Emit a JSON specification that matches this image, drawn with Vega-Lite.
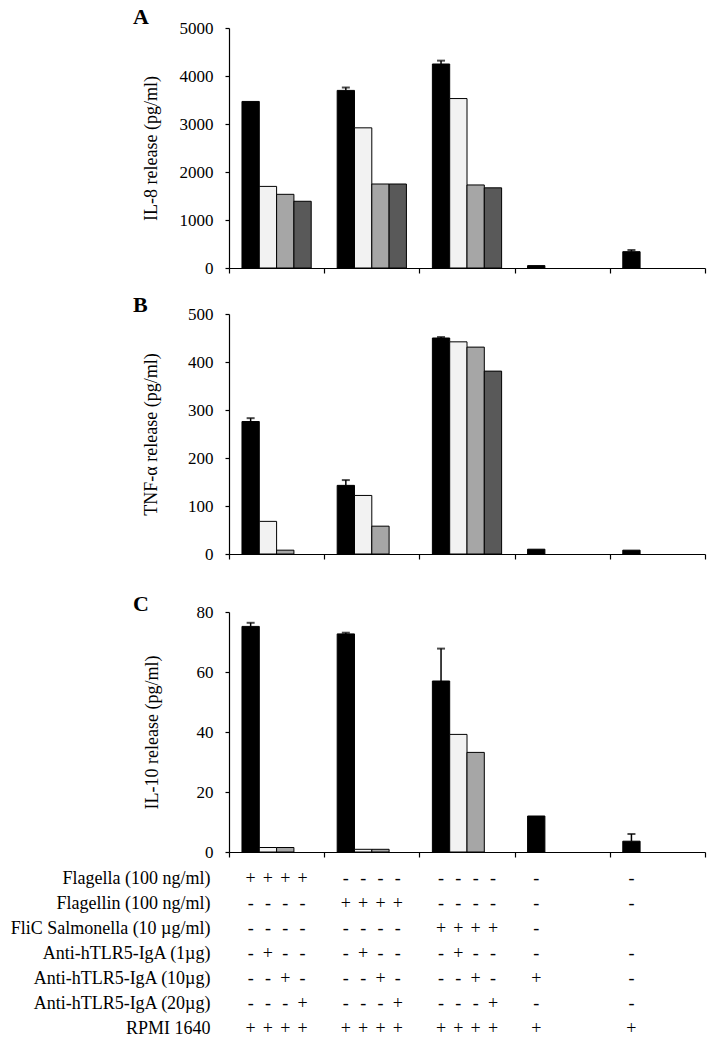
{
  "$schema": "https://vega.github.io/schema/vega-lite/v6.json",
  "padding": {"left": 5, "top": 5, "right": 5, "bottom": 0},
  "spacing": 0,
  "config": {
    "view": {"stroke": null},
    "font": "Liberation Serif",
    "axis": {"domainColor": "#000", "tickColor": "#000", "labelColor": "#000", "titleColor": "#000", "labelFont": "Liberation Serif", "titleFont": "Liberation Serif", "grid": false, "labelFontSize": 17, "titleFontSize": 18, "titleFontWeight": "normal", "domainWidth": 1.2, "tickWidth": 1.2},
    "title": {"font": "Liberation Serif", "fontSize": 22, "fontWeight": "bold", "anchor": "start", "frame": "group", "color": "#000"}
  },
  "datasets": {
    "bars": [
      {"p": "A", "g": "1", "s": "1", "v": 3470},
      {"p": "A", "g": "1", "s": "2", "v": 1700},
      {"p": "A", "g": "1", "s": "3", "v": 1535},
      {"p": "A", "g": "1", "s": "4", "v": 1390},
      {"p": "A", "g": "2", "s": "1", "v": 3700, "hi": 3760},
      {"p": "A", "g": "2", "s": "2", "v": 2920},
      {"p": "A", "g": "2", "s": "3", "v": 1750},
      {"p": "A", "g": "2", "s": "4", "v": 1750},
      {"p": "A", "g": "3", "s": "1", "v": 4250, "hi": 4320},
      {"p": "A", "g": "3", "s": "2", "v": 3530},
      {"p": "A", "g": "3", "s": "3", "v": 1730},
      {"p": "A", "g": "3", "s": "4", "v": 1670},
      {"p": "A", "g": "4", "s": "1", "v": 50},
      {"p": "A", "g": "5", "s": "1", "v": 340, "hi": 375},
      {"p": "B", "g": "1", "s": "1", "v": 276, "hi": 283},
      {"p": "B", "g": "1", "s": "2", "v": 68},
      {"p": "B", "g": "1", "s": "3", "v": 8},
      {"p": "B", "g": "2", "s": "1", "v": 143, "hi": 154},
      {"p": "B", "g": "2", "s": "2", "v": 122},
      {"p": "B", "g": "2", "s": "3", "v": 58},
      {"p": "B", "g": "3", "s": "1", "v": 450, "hi": 452},
      {"p": "B", "g": "3", "s": "2", "v": 442},
      {"p": "B", "g": "3", "s": "3", "v": 431},
      {"p": "B", "g": "3", "s": "4", "v": 381},
      {"p": "B", "g": "4", "s": "1", "v": 10},
      {"p": "B", "g": "5", "s": "1", "v": 8},
      {"p": "C", "g": "1", "s": "1", "v": 75.2, "hi": 76.4},
      {"p": "C", "g": "1", "s": "2", "v": 1.5},
      {"p": "C", "g": "1", "s": "3", "v": 1.5},
      {"p": "C", "g": "2", "s": "1", "v": 72.7, "hi": 73.1},
      {"p": "C", "g": "2", "s": "2", "v": 0.9},
      {"p": "C", "g": "2", "s": "3", "v": 0.9},
      {"p": "C", "g": "3", "s": "1", "v": 57, "hi": 67.8},
      {"p": "C", "g": "3", "s": "2", "v": 39.2},
      {"p": "C", "g": "3", "s": "3", "v": 33.2},
      {"p": "C", "g": "4", "s": "1", "v": 12},
      {"p": "C", "g": "5", "s": "1", "v": 3.6, "hi": 6.0}
    ],
    "tbl": [
      {"r": "Flagella (100 ng/ml)", "g": "1", "s": "1", "t": "+"},
      {"r": "Flagella (100 ng/ml)", "g": "1", "s": "2", "t": "+"},
      {"r": "Flagella (100 ng/ml)", "g": "1", "s": "3", "t": "+"},
      {"r": "Flagella (100 ng/ml)", "g": "1", "s": "4", "t": "+"},
      {"r": "Flagella (100 ng/ml)", "g": "2", "s": "1", "t": "-"},
      {"r": "Flagella (100 ng/ml)", "g": "2", "s": "2", "t": "-"},
      {"r": "Flagella (100 ng/ml)", "g": "2", "s": "3", "t": "-"},
      {"r": "Flagella (100 ng/ml)", "g": "2", "s": "4", "t": "-"},
      {"r": "Flagella (100 ng/ml)", "g": "3", "s": "1", "t": "-"},
      {"r": "Flagella (100 ng/ml)", "g": "3", "s": "2", "t": "-"},
      {"r": "Flagella (100 ng/ml)", "g": "3", "s": "3", "t": "-"},
      {"r": "Flagella (100 ng/ml)", "g": "3", "s": "4", "t": "-"},
      {"r": "Flagella (100 ng/ml)", "g": "4", "s": "1", "t": "-"},
      {"r": "Flagella (100 ng/ml)", "g": "5", "s": "1", "t": "-"},
      {"r": "Flagellin (100 ng/ml)", "g": "1", "s": "1", "t": "-"},
      {"r": "Flagellin (100 ng/ml)", "g": "1", "s": "2", "t": "-"},
      {"r": "Flagellin (100 ng/ml)", "g": "1", "s": "3", "t": "-"},
      {"r": "Flagellin (100 ng/ml)", "g": "1", "s": "4", "t": "-"},
      {"r": "Flagellin (100 ng/ml)", "g": "2", "s": "1", "t": "+"},
      {"r": "Flagellin (100 ng/ml)", "g": "2", "s": "2", "t": "+"},
      {"r": "Flagellin (100 ng/ml)", "g": "2", "s": "3", "t": "+"},
      {"r": "Flagellin (100 ng/ml)", "g": "2", "s": "4", "t": "+"},
      {"r": "Flagellin (100 ng/ml)", "g": "3", "s": "1", "t": "-"},
      {"r": "Flagellin (100 ng/ml)", "g": "3", "s": "2", "t": "-"},
      {"r": "Flagellin (100 ng/ml)", "g": "3", "s": "3", "t": "-"},
      {"r": "Flagellin (100 ng/ml)", "g": "3", "s": "4", "t": "-"},
      {"r": "Flagellin (100 ng/ml)", "g": "4", "s": "1", "t": "-"},
      {"r": "Flagellin (100 ng/ml)", "g": "5", "s": "1", "t": "-"},
      {"r": "FliC  Salmonella (10 µg/ml)", "g": "1", "s": "1", "t": "-"},
      {"r": "FliC  Salmonella (10 µg/ml)", "g": "1", "s": "2", "t": "-"},
      {"r": "FliC  Salmonella (10 µg/ml)", "g": "1", "s": "3", "t": "-"},
      {"r": "FliC  Salmonella (10 µg/ml)", "g": "1", "s": "4", "t": "-"},
      {"r": "FliC  Salmonella (10 µg/ml)", "g": "2", "s": "1", "t": "-"},
      {"r": "FliC  Salmonella (10 µg/ml)", "g": "2", "s": "2", "t": "-"},
      {"r": "FliC  Salmonella (10 µg/ml)", "g": "2", "s": "3", "t": "-"},
      {"r": "FliC  Salmonella (10 µg/ml)", "g": "2", "s": "4", "t": "-"},
      {"r": "FliC  Salmonella (10 µg/ml)", "g": "3", "s": "1", "t": "+"},
      {"r": "FliC  Salmonella (10 µg/ml)", "g": "3", "s": "2", "t": "+"},
      {"r": "FliC  Salmonella (10 µg/ml)", "g": "3", "s": "3", "t": "+"},
      {"r": "FliC  Salmonella (10 µg/ml)", "g": "3", "s": "4", "t": "+"},
      {"r": "FliC  Salmonella (10 µg/ml)", "g": "4", "s": "1", "t": "-"},
      {"r": "Anti-hTLR5-IgA (1µg)", "g": "1", "s": "1", "t": "-"},
      {"r": "Anti-hTLR5-IgA (1µg)", "g": "1", "s": "2", "t": "+"},
      {"r": "Anti-hTLR5-IgA (1µg)", "g": "1", "s": "3", "t": "-"},
      {"r": "Anti-hTLR5-IgA (1µg)", "g": "1", "s": "4", "t": "-"},
      {"r": "Anti-hTLR5-IgA (1µg)", "g": "2", "s": "1", "t": "-"},
      {"r": "Anti-hTLR5-IgA (1µg)", "g": "2", "s": "2", "t": "+"},
      {"r": "Anti-hTLR5-IgA (1µg)", "g": "2", "s": "3", "t": "-"},
      {"r": "Anti-hTLR5-IgA (1µg)", "g": "2", "s": "4", "t": "-"},
      {"r": "Anti-hTLR5-IgA (1µg)", "g": "3", "s": "1", "t": "-"},
      {"r": "Anti-hTLR5-IgA (1µg)", "g": "3", "s": "2", "t": "+"},
      {"r": "Anti-hTLR5-IgA (1µg)", "g": "3", "s": "3", "t": "-"},
      {"r": "Anti-hTLR5-IgA (1µg)", "g": "3", "s": "4", "t": "-"},
      {"r": "Anti-hTLR5-IgA (1µg)", "g": "4", "s": "1", "t": "-"},
      {"r": "Anti-hTLR5-IgA (1µg)", "g": "5", "s": "1", "t": "-"},
      {"r": "Anti-hTLR5-IgA (10µg)", "g": "1", "s": "1", "t": "-"},
      {"r": "Anti-hTLR5-IgA (10µg)", "g": "1", "s": "2", "t": "-"},
      {"r": "Anti-hTLR5-IgA (10µg)", "g": "1", "s": "3", "t": "+"},
      {"r": "Anti-hTLR5-IgA (10µg)", "g": "1", "s": "4", "t": "-"},
      {"r": "Anti-hTLR5-IgA (10µg)", "g": "2", "s": "1", "t": "-"},
      {"r": "Anti-hTLR5-IgA (10µg)", "g": "2", "s": "2", "t": "-"},
      {"r": "Anti-hTLR5-IgA (10µg)", "g": "2", "s": "3", "t": "+"},
      {"r": "Anti-hTLR5-IgA (10µg)", "g": "2", "s": "4", "t": "-"},
      {"r": "Anti-hTLR5-IgA (10µg)", "g": "3", "s": "1", "t": "-"},
      {"r": "Anti-hTLR5-IgA (10µg)", "g": "3", "s": "2", "t": "-"},
      {"r": "Anti-hTLR5-IgA (10µg)", "g": "3", "s": "3", "t": "+"},
      {"r": "Anti-hTLR5-IgA (10µg)", "g": "3", "s": "4", "t": "-"},
      {"r": "Anti-hTLR5-IgA (10µg)", "g": "4", "s": "1", "t": "+"},
      {"r": "Anti-hTLR5-IgA (10µg)", "g": "5", "s": "1", "t": "-"},
      {"r": "Anti-hTLR5-IgA (20µg)", "g": "1", "s": "1", "t": "-"},
      {"r": "Anti-hTLR5-IgA (20µg)", "g": "1", "s": "2", "t": "-"},
      {"r": "Anti-hTLR5-IgA (20µg)", "g": "1", "s": "3", "t": "-"},
      {"r": "Anti-hTLR5-IgA (20µg)", "g": "1", "s": "4", "t": "+"},
      {"r": "Anti-hTLR5-IgA (20µg)", "g": "2", "s": "1", "t": "-"},
      {"r": "Anti-hTLR5-IgA (20µg)", "g": "2", "s": "2", "t": "-"},
      {"r": "Anti-hTLR5-IgA (20µg)", "g": "2", "s": "3", "t": "-"},
      {"r": "Anti-hTLR5-IgA (20µg)", "g": "2", "s": "4", "t": "+"},
      {"r": "Anti-hTLR5-IgA (20µg)", "g": "3", "s": "1", "t": "-"},
      {"r": "Anti-hTLR5-IgA (20µg)", "g": "3", "s": "2", "t": "-"},
      {"r": "Anti-hTLR5-IgA (20µg)", "g": "3", "s": "3", "t": "-"},
      {"r": "Anti-hTLR5-IgA (20µg)", "g": "3", "s": "4", "t": "+"},
      {"r": "Anti-hTLR5-IgA (20µg)", "g": "4", "s": "1", "t": "-"},
      {"r": "Anti-hTLR5-IgA (20µg)", "g": "5", "s": "1", "t": "-"},
      {"r": "RPMI 1640", "g": "1", "s": "1", "t": "+"},
      {"r": "RPMI 1640", "g": "1", "s": "2", "t": "+"},
      {"r": "RPMI 1640", "g": "1", "s": "3", "t": "+"},
      {"r": "RPMI 1640", "g": "1", "s": "4", "t": "+"},
      {"r": "RPMI 1640", "g": "2", "s": "1", "t": "+"},
      {"r": "RPMI 1640", "g": "2", "s": "2", "t": "+"},
      {"r": "RPMI 1640", "g": "2", "s": "3", "t": "+"},
      {"r": "RPMI 1640", "g": "2", "s": "4", "t": "+"},
      {"r": "RPMI 1640", "g": "3", "s": "1", "t": "+"},
      {"r": "RPMI 1640", "g": "3", "s": "2", "t": "+"},
      {"r": "RPMI 1640", "g": "3", "s": "3", "t": "+"},
      {"r": "RPMI 1640", "g": "3", "s": "4", "t": "+"},
      {"r": "RPMI 1640", "g": "4", "s": "1", "t": "+"},
      {"r": "RPMI 1640", "g": "5", "s": "1", "t": "+"}
    ]
  },
  "vconcat": [
    {
      "width": 476, "height": 240,
      "title": {"text": "A", "dx": -96, "offset": -9.5},
      "data": {"name": "bars"},
      "transform": [{"filter": "datum.p == 'A'"}],
      "encoding": {
        "x": {"field": "g", "type": "nominal", "scale": {"domain": ["1","2","3","4","5"], "paddingInner": 0, "paddingOuter": 0}, "axis": {"labels": false, "title": null, "tickBand": "extent", "tickSize": 5, "minExtent": 25}},
        "xOffset": {"field": "s", "type": "nominal", "scale": {"domain": ["1","2","3","4"], "paddingInner": 0, "paddingOuter": 0.75}}
      },
      "layer": [
        {"mark": {"type": "bar", "stroke": "#000", "strokeWidth": 1},
         "encoding": {
           "y": {"field": "v", "type": "quantitative", "scale": {"domain": [0, 5000]}, "axis": {"values": [0,1000,2000,3000,4000,5000], "format": "d", "title": "IL-8 release (pg/ml)", "tickSize": 4, "labelPadding": 12, "titlePadding": 19}},
           "fill": {"field": "s", "type": "nominal", "scale": {"domain": ["1","2","3","4"], "range": ["#000000","#f2f2f2","#a6a6a6","#595959"]}, "legend": null}}},
        {"transform": [{"filter": "isValid(datum.hi)"}], "mark": {"type": "rule", "color": "#000", "strokeWidth": 1.5},
         "encoding": {"y": {"field": "v", "type": "quantitative"}, "y2": {"field": "hi"}}},
        {"transform": [{"filter": "isValid(datum.hi)"}], "mark": {"type": "tick", "color": "#000", "thickness": 2, "orient": "horizontal"},
         "encoding": {"y": {"field": "hi", "type": "quantitative"}, "size": {"value": 8}}}
      ]
    },
    {
      "width": 476, "height": 240,
      "title": {"text": "B", "dx": -96, "offset": -11.5},
      "data": {"name": "bars"},
      "transform": [{"filter": "datum.p == 'B'"}],
      "encoding": {
        "x": {"field": "g", "type": "nominal", "scale": {"domain": ["1","2","3","4","5"], "paddingInner": 0, "paddingOuter": 0}, "axis": {"labels": false, "title": null, "tickBand": "extent", "tickSize": 5, "minExtent": 38}},
        "xOffset": {"field": "s", "type": "nominal", "scale": {"domain": ["1","2","3","4"], "paddingInner": 0, "paddingOuter": 0.75}}
      },
      "layer": [
        {"mark": {"type": "bar", "stroke": "#000", "strokeWidth": 1},
         "encoding": {
           "y": {"field": "v", "type": "quantitative", "scale": {"domain": [0, 500]}, "axis": {"values": [0,100,200,300,400,500], "format": "d", "title": "TNF-α release (pg/ml)", "tickSize": 4, "labelPadding": 12, "titlePadding": 27}},
           "fill": {"field": "s", "type": "nominal", "scale": {"domain": ["1","2","3","4"], "range": ["#000000","#f2f2f2","#a6a6a6","#595959"]}, "legend": null}}},
        {"transform": [{"filter": "isValid(datum.hi)"}], "mark": {"type": "rule", "color": "#000", "strokeWidth": 1.5},
         "encoding": {"y": {"field": "v", "type": "quantitative"}, "y2": {"field": "hi"}}},
        {"transform": [{"filter": "isValid(datum.hi)"}], "mark": {"type": "tick", "color": "#000", "thickness": 2, "orient": "horizontal"},
         "encoding": {"y": {"field": "hi", "type": "quantitative"}, "size": {"value": 8}}}
      ]
    },
    {
      "width": 476, "height": 240,
      "title": {"text": "C", "dx": -96, "offset": -12.5},
      "data": {"name": "bars"},
      "transform": [{"filter": "datum.p == 'C'"}],
      "encoding": {
        "x": {"field": "g", "type": "nominal", "scale": {"domain": ["1","2","3","4","5"], "paddingInner": 0, "paddingOuter": 0}, "axis": {"labels": false, "title": null, "tickBand": "extent", "tickSize": 5, "minExtent": 14}},
        "xOffset": {"field": "s", "type": "nominal", "scale": {"domain": ["1","2","3","4"], "paddingInner": 0, "paddingOuter": 0.75}}
      },
      "layer": [
        {"mark": {"type": "bar", "stroke": "#000", "strokeWidth": 1},
         "encoding": {
           "y": {"field": "v", "type": "quantitative", "scale": {"domain": [0, 80]}, "axis": {"values": [0,20,40,60,80], "format": "d", "title": "IL-10 release (pg/ml)", "tickSize": 4, "labelPadding": 12, "titlePadding": 35}},
           "fill": {"field": "s", "type": "nominal", "scale": {"domain": ["1","2","3","4"], "range": ["#000000","#f2f2f2","#a6a6a6","#595959"]}, "legend": null}}},
        {"transform": [{"filter": "isValid(datum.hi)"}], "mark": {"type": "rule", "color": "#000", "strokeWidth": 1.5},
         "encoding": {"y": {"field": "v", "type": "quantitative"}, "y2": {"field": "hi"}}},
        {"transform": [{"filter": "isValid(datum.hi)"}], "mark": {"type": "tick", "color": "#000", "thickness": 2, "orient": "horizontal"},
         "encoding": {"y": {"field": "hi", "type": "quantitative"}, "size": {"value": 8}}}
      ]
    },
    {
      "width": 476, "height": 175,
      "data": {"name": "tbl"},
      "mark": {"type": "text", "fontSize": 18, "font": "Liberation Serif", "fill": "#000"},
      "encoding": {
        "x": {"field": "g", "type": "nominal", "scale": {"domain": ["1","2","3","4","5"], "paddingInner": 0, "paddingOuter": 0}, "axis": null},
        "xOffset": {"field": "s", "type": "nominal", "scale": {"domain": ["1","2","3","4"], "paddingInner": 0, "paddingOuter": 0.75}},
        "y": {"field": "r", "type": "nominal", "sort": ["Flagella (100 ng/ml)", "Flagellin (100 ng/ml)", "FliC  Salmonella (10 µg/ml)", "Anti-hTLR5-IgA (1µg)", "Anti-hTLR5-IgA (10µg)", "Anti-hTLR5-IgA (20µg)", "RPMI 1640"], "scale": {"paddingInner": 0, "paddingOuter": 0}, "axis": {"title": null, "domain": false, "ticks": false, "labelFontSize": 18, "labelPadding": 19, "labelLimit": 0}},
        "text": {"field": "t"}
      }
    }
  ]
}
